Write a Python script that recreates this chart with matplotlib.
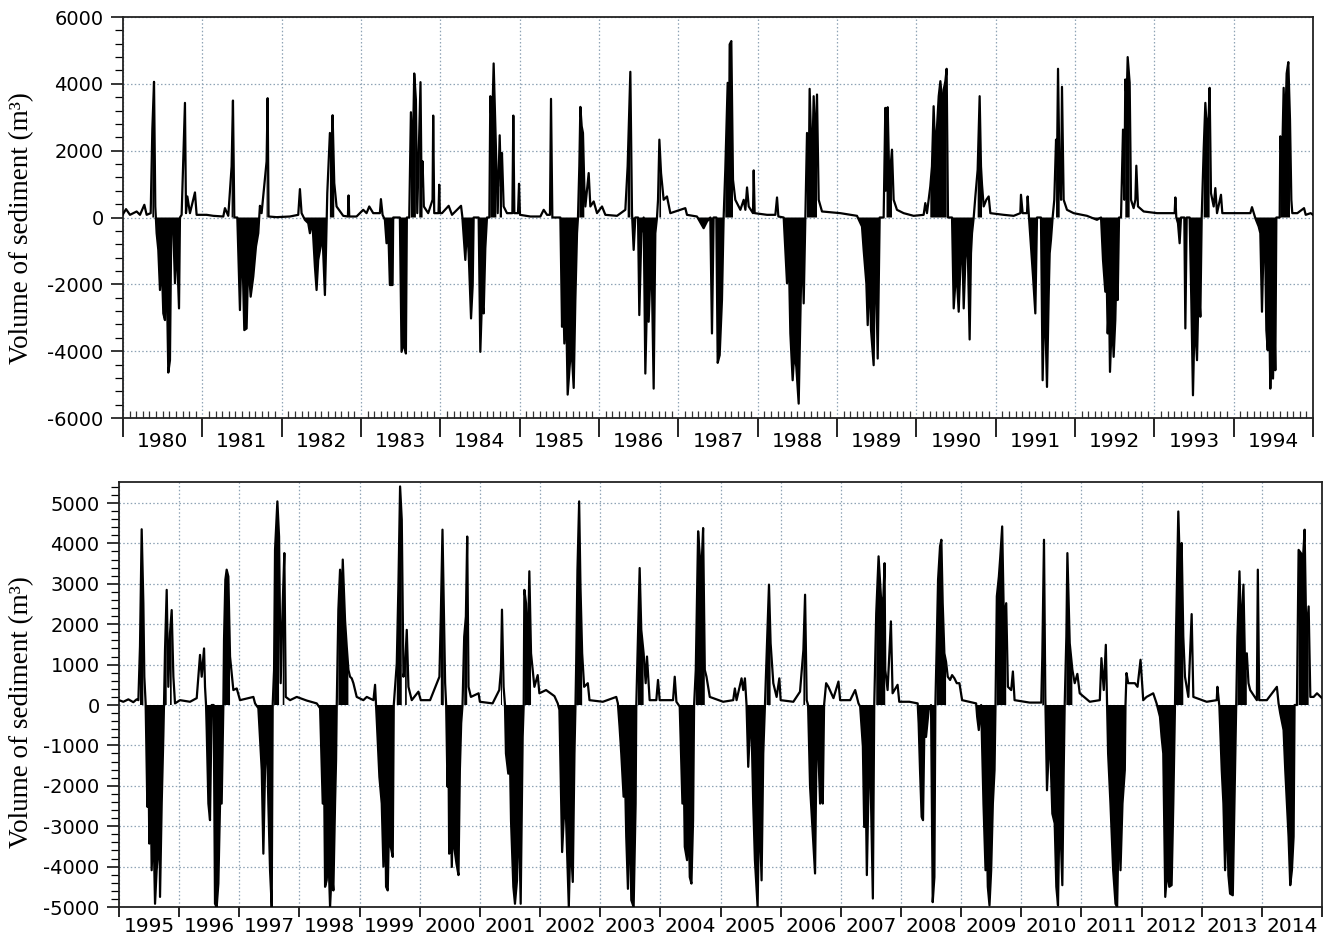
import matplotlib
matplotlib.use("Agg")
import matplotlib.pyplot as plt
import numpy as np
from matplotlib.ticker import MultipleLocator, FixedLocator

plt.rcParams['axes.unicode_minus'] = False

# ---------------- data: 1980-1994 (upper panel) ----------------
top_t = np.array([
    1980.000, 1980.038, 1980.088, 1980.172, 1980.214, 1980.269, 1980.298, 1980.349, 1980.370, 1980.391, 1980.407,
    1980.424, 1980.445, 1980.466, 1980.487, 1980.508, 1980.529, 1980.542, 1980.571, 1980.592, 1980.609, 1980.634,
    1980.655, 1980.676, 1980.706, 1980.718, 1980.739, 1980.781, 1980.794, 1980.811, 1980.844, 1980.907, 1980.928,
    1981.054, 1981.138, 1981.264, 1981.285, 1981.327, 1981.369, 1981.386, 1981.403, 1981.441, 1981.474, 1981.499,
    1981.529, 1981.558, 1981.579, 1981.609, 1981.642, 1981.676, 1981.705, 1981.726, 1981.747, 1981.810, 1981.823,
    1981.835, 1981.936,
    1982.104, 1982.209, 1982.230, 1982.251, 1982.293, 1982.335, 1982.356, 1982.386, 1982.419, 1982.440, 1982.461,
    1982.491, 1982.512, 1982.545, 1982.558, 1982.575, 1982.608, 1982.629, 1982.642, 1982.663, 1982.692, 1982.776,
    1982.835, 1982.843, 1982.852, 1982.944,
    1983.028, 1983.070, 1983.104, 1983.154, 1983.238, 1983.251, 1983.272, 1983.301, 1983.322, 1983.343, 1983.364,
    1983.398, 1983.406, 1983.490, 1983.511, 1983.541, 1983.566, 1983.578, 1983.608, 1983.629, 1983.650, 1983.671,
    1983.692, 1983.709, 1983.734, 1983.750, 1983.763, 1983.776, 1983.792, 1983.847, 1983.902, 1983.910, 1983.923,
    1983.977, 1983.986, 1983.994,
    1984.021, 1984.105, 1984.147, 1984.261, 1984.277, 1984.315, 1984.336, 1984.357, 1984.387, 1984.408, 1984.420,
    1984.483, 1984.504, 1984.525, 1984.546, 1984.567, 1984.588, 1984.618, 1984.630, 1984.651, 1984.672, 1984.693,
    1984.706, 1984.723, 1984.748, 1984.765, 1984.777, 1984.798, 1984.840, 1984.908, 1984.920, 1984.933, 1984.979,
    1984.992,
    1985.004, 1985.134, 1985.261, 1985.303, 1985.345, 1985.382, 1985.395, 1985.412, 1985.513, 1985.534, 1985.546,
    1985.563, 1985.584, 1985.605, 1985.630, 1985.651, 1985.681, 1985.702, 1985.723, 1985.735, 1985.752, 1985.765,
    1985.782, 1985.798, 1985.815, 1985.828, 1985.870, 1985.891, 1985.933, 1985.975,
    1986.038, 1986.080, 1986.227, 1986.332, 1986.361, 1986.395, 1986.416, 1986.437, 1986.458, 1986.492, 1986.508,
    1986.534, 1986.563, 1986.584, 1986.605, 1986.626, 1986.660, 1986.689, 1986.710, 1986.731, 1986.744, 1986.761,
    1986.782, 1986.815, 1986.857, 1986.899,
    1987.088, 1987.109, 1987.235, 1987.319, 1987.361, 1987.403, 1987.424, 1987.445, 1987.479, 1987.496, 1987.521,
    1987.550, 1987.571, 1987.592, 1987.622, 1987.639, 1987.647, 1987.668, 1987.689, 1987.718, 1987.782, 1987.824,
    1987.845, 1987.866, 1987.887, 1987.941, 1987.950, 1987.962,
    1988.118, 1988.223, 1988.244, 1988.261, 1988.328, 1988.370, 1988.391, 1988.412, 1988.441, 1988.462, 1988.487,
    1988.517, 1988.538, 1988.559, 1988.580, 1988.601, 1988.622, 1988.643, 1988.655, 1988.685, 1988.706, 1988.727,
    1988.748, 1988.769, 1988.811,
    1989.042, 1989.252, 1989.315, 1989.336, 1989.370, 1989.387, 1989.408, 1989.429, 1989.462, 1989.483, 1989.513,
    1989.538, 1989.588, 1989.609, 1989.617, 1989.624, 1989.632, 1989.639, 1989.655, 1989.672, 1989.693, 1989.714,
    1989.756, 1989.840, 1989.966,
    1990.092, 1990.113, 1990.134, 1990.176, 1990.197, 1990.218, 1990.239, 1990.261, 1990.282, 1990.303, 1990.324,
    1990.336, 1990.345, 1990.366, 1990.382, 1990.399, 1990.450, 1990.471, 1990.492, 1990.504, 1990.534, 1990.555,
    1990.576, 1990.597, 1990.630, 1990.651, 1990.672, 1990.689, 1990.702, 1990.723, 1990.744, 1990.773, 1990.798,
    1990.815, 1990.828, 1990.849, 1990.882, 1990.912, 1990.933,
    1991.101, 1991.227, 1991.311, 1991.319, 1991.340, 1991.395, 1991.403, 1991.420, 1991.445, 1991.471, 1991.500,
    1991.521, 1991.571, 1991.592, 1991.613, 1991.630, 1991.647, 1991.668, 1991.681, 1991.697, 1991.718, 1991.739,
    1991.761, 1991.773, 1991.786, 1991.807, 1991.824, 1991.836, 1991.857, 1991.899, 1991.983,
    1992.151, 1992.277, 1992.328, 1992.353, 1992.382, 1992.395, 1992.412, 1992.429, 1992.441, 1992.466, 1992.487,
    1992.508, 1992.525, 1992.538, 1992.555, 1992.580, 1992.605, 1992.622, 1992.634, 1992.651, 1992.664, 1992.689,
    1992.706, 1992.739, 1992.761, 1992.773, 1992.794, 1992.866,
    1993.034, 1993.202, 1993.256, 1993.265, 1993.277, 1993.298, 1993.319, 1993.336, 1993.378, 1993.391, 1993.408,
    1993.445, 1993.466, 1993.487, 1993.508, 1993.538, 1993.559, 1993.580, 1993.597, 1993.622, 1993.643, 1993.664,
    1993.685, 1993.697, 1993.714, 1993.748, 1993.769, 1993.790, 1993.840, 1993.857,
    1994.042, 1994.210, 1994.231, 1994.273, 1994.315, 1994.336, 1994.357, 1994.378, 1994.399, 1994.412, 1994.429,
    1994.445, 1994.462, 1994.479, 1994.496, 1994.513, 1994.525, 1994.538, 1994.580, 1994.588, 1994.609, 1994.630,
    1994.647, 1994.668, 1994.689, 1994.710, 1994.727, 1994.739, 1994.803, 1994.887, 1994.908, 1994.971, 1995.000,
])
top_v = np.array([
    100, 250, 80, 180, 80, 380, 80, 130, 2650, 4060, 330,
    -470, -970, -2170, -1270, -2870, -3070, -470, -4640, -4270, -170, -370,
    -1970, -670, -2720, 0, 80, 3430, 130, 630, 130, 750, 80,
    80, 50, 30, 280, 50, 1530, 3500, 0, 0, -2770, -470,
    -3370, -3320, -1270, -2370, -1770, -870, -470, 350, 130, 1680, 3570,
    30, 10,
    30, 80, 850, 130, -70, -170, -470, -90, -1470, -2170, -1270,
    -870, -370, -2320, -1070, 730, 2530, 1730, 3060, 1030, 330, 50,
    30, 660, 30, 30,
    230, 130, 330, 130, 130, 550, 80, -70, -770, -270, -2020,
    -2020, 0, 0, -4020, -3770, -4070, 0, 0, 3150, 1530, 4310,
    3530, 130, 2530, 4050, 930, 1680, 330, 130, 530, 3050, 130,
    130, 980, 130,
    130, 350, 80, 350, 30, -1270, -270, -1070, -3020, -2020, 0,
    0, -4020, -2470, -2870, -920, 0, 0, 3630, 2530, 4610, 2730,
    1530, 130, 2460, 930, 1930, 330, 130, 130, 3050, 130, 130,
    1010,
    80, 30, 30, 230, 80, 80, 3550, 0, 0, -3270, -1970,
    -3770, -2470, -5300, -4470, -3770, -5100, -2470, -470, 0, 1530, 3310,
    2730, 2530, 930, 330, 1330, 330, 480, 130,
    330, 80, 50, 230, 1530, 4360, 130, -970, 0, 0, -2920,
    -470, 0, -4670, -2470, -3120, -870, -5120, -470, 0, 530, 2330,
    1330, 530, 630, 130,
    280, 80, 30, -320, -120, 0, -3470, 0, 0, -4350, -4120,
    -2470, 0, 1430, 4030, 2030, 5180, 5280, 1130, 530, 230, 530,
    230, 900, 330, 130, 1410, 130,
    80, 80, 600, 30, 0, -1970, -970, -3470, -4870, -4020, -4470,
    -5570, -2970, -470, -2570, 0, 2530, 930, 3850, 1330, 3630, 2030,
    3680, 530, 180,
    130, 50, -270, -970, -1970, -3220, -1470, -3370, -4420, -470, -4220,
    0, 0, 3280, 800, 3100, 1200, 3300, 1530, 1430, 2030, 530,
    230, 130, 50,
    80, 430, 130, 930, 1530, 3330, 1930, 2730, 3630, 4080, 3530,
    2030, 3830, 4080, 4450, 0, 0, -2720, -1970, -1520, -2820, -1470,
    -470, -2720, -470, -1270, -3650, -1070, -470, 0, 630, 1430, 3630,
    1530, 980, 330, 530, 630, 130,
    80, 50, 130, 680, 130, 130, 630, 0, -870, -1770, -2870,
    0, 0, -4870, -2470, -3470, -5070, -2370, -1070, -670, 0, 530,
    2330, 1530, 4450, 930, 530, 3910, 530, 230, 130,
    50, -70, 0, -1270, -2220, -1270, -3470, -2470, -4620, -2970, -4170,
    -3070, -1270, -2470, 0, 0, 2630, 530, 4130, 3530, 4800, 4030,
    530, 280, 530, 1550, 330, 180,
    130, 130, 130, 600, 0, -170, -770, 0, 0, -3320, 0,
    0, -2470, -5320, -2970, -4270, -1970, -2970, 0, 2030, 3430, 2530,
    3030, 3880, 730, 330, 880, 130, 680, 130,
    130, 130, 310, -20, -270, -470, -2820, -670, -1270, -3370, -3970,
    -2470, -5120, -3470, -4820, -2970, -4570, 0, 0, 2430, 1530, 3880,
    2530, 4310, 4650, 2930, 530, 130, 130, 280, 80, 130, 80,
])

# ---------------- data: 1995-2014 (lower panel) ----------------
bot_t = np.array([
    1995.000, 1995.072, 1995.155, 1995.238, 1995.294, 1995.322, 1995.349, 1995.377, 1995.405, 1995.421, 1995.443,
    1995.471, 1995.488, 1995.504, 1995.527, 1995.543, 1995.571, 1995.599, 1995.626, 1995.654, 1995.671, 1995.682,
    1995.710, 1995.737, 1995.748, 1995.765, 1995.793, 1995.820, 1995.848, 1995.876, 1995.904, 1995.931,
    1996.014, 1996.181, 1996.292, 1996.347, 1996.375, 1996.414, 1996.430, 1996.447, 1996.458, 1996.486, 1996.513,
    1996.541, 1996.574, 1996.596, 1996.624, 1996.652, 1996.680, 1996.707, 1996.735, 1996.746, 1996.768, 1996.790,
    1996.818, 1996.846, 1996.901, 1996.957,
    1997.012, 1997.234, 1997.262, 1997.317, 1997.373, 1997.400, 1997.428, 1997.456, 1997.483, 1997.511, 1997.539,
    1997.555, 1997.578, 1997.594, 1997.633, 1997.661, 1997.688, 1997.722, 1997.749, 1997.772, 1997.844, 1997.955,
    1998.121, 1998.287, 1998.343, 1998.387, 1998.409, 1998.426, 1998.453, 1998.481, 1998.509, 1998.537, 1998.564,
    1998.592, 1998.609, 1998.620, 1998.647, 1998.675, 1998.703, 1998.720, 1998.758, 1998.786, 1998.814, 1998.841,
    1998.869, 1998.897, 1998.952,
    1999.063, 1999.119, 1999.230, 1999.257, 1999.274, 1999.285, 1999.329, 1999.368, 1999.396, 1999.424, 1999.440,
    1999.468, 1999.496, 1999.518, 1999.551, 1999.568, 1999.618, 1999.645, 1999.673, 1999.701, 1999.729, 1999.756,
    1999.784, 1999.812, 1999.867, 1999.978,
    2000.017, 2000.172, 2000.283, 2000.327, 2000.350, 2000.378, 2000.400, 2000.422, 2000.439, 2000.461, 2000.478,
    2000.489, 2000.511, 2000.533, 2000.556, 2000.572, 2000.611, 2000.644, 2000.667, 2000.689, 2000.711, 2000.739,
    2000.767, 2000.789, 2000.811, 2000.850, 2000.978,
    2001.000, 2001.211, 2001.322, 2001.350, 2001.367, 2001.394, 2001.417, 2001.433, 2001.472, 2001.494, 2001.517,
    2001.556, 2001.583, 2001.617, 2001.644, 2001.678, 2001.711, 2001.728, 2001.739, 2001.767, 2001.794, 2001.822,
    2001.850, 2001.906, 2001.961, 2001.989,
    2002.100, 2002.239, 2002.294, 2002.322, 2002.367, 2002.406, 2002.433, 2002.478, 2002.506, 2002.544, 2002.572,
    2002.589, 2002.600, 2002.622, 2002.650, 2002.672, 2002.700, 2002.733, 2002.794, 2002.822,
    2003.044, 2003.267, 2003.294, 2003.322, 2003.350, 2003.389, 2003.411, 2003.433, 2003.461, 2003.489, 2003.517,
    2003.556, 2003.589, 2003.600, 2003.628, 2003.656, 2003.683, 2003.722, 2003.756, 2003.778, 2003.822, 2003.933,
    2003.961, 2003.989,
    2004.211, 2004.239, 2004.267, 2004.322, 2004.367, 2004.389, 2004.406, 2004.444, 2004.467, 2004.489, 2004.517,
    2004.544, 2004.561, 2004.589, 2004.628, 2004.656, 2004.683, 2004.711, 2004.739, 2004.767, 2004.822,
    2005.044, 2005.211, 2005.239, 2005.267, 2005.350, 2005.378, 2005.406, 2005.433, 2005.461, 2005.489, 2005.517,
    2005.544, 2005.572, 2005.617, 2005.644, 2005.683, 2005.711, 2005.739, 2005.767, 2005.806, 2005.833, 2005.878,
    2005.933, 2005.978,
    2006.000, 2006.211, 2006.322, 2006.378, 2006.406, 2006.433, 2006.456, 2006.489, 2006.533, 2006.572, 2006.600,
    2006.628, 2006.656, 2006.678, 2006.700, 2006.722, 2006.756, 2006.794, 2006.878, 2006.961, 2006.989,
    2007.156, 2007.239, 2007.294, 2007.322, 2007.367, 2007.389, 2007.411, 2007.433, 2007.461, 2007.489, 2007.533,
    2007.556, 2007.589, 2007.628, 2007.667, 2007.700, 2007.728, 2007.739, 2007.778, 2007.833, 2007.861, 2007.944,
    2007.972,
    2008.139, 2008.278, 2008.294, 2008.317, 2008.344, 2008.367, 2008.389, 2008.417, 2008.461, 2008.500, 2008.528,
    2008.556, 2008.572, 2008.594, 2008.617, 2008.650, 2008.672, 2008.694, 2008.722, 2008.750, 2008.778, 2008.817,
    2008.850, 2008.889, 2008.928, 2008.972,
    2009.017, 2009.250, 2009.267, 2009.294, 2009.333, 2009.372, 2009.406, 2009.428, 2009.444, 2009.472, 2009.500,
    2009.528, 2009.556, 2009.572, 2009.594, 2009.628, 2009.650, 2009.683, 2009.711, 2009.750, 2009.778, 2009.833,
    2009.861, 2009.889,
    2010.139, 2010.333, 2010.350, 2010.378, 2010.400, 2010.428, 2010.472, 2010.517, 2010.556, 2010.583, 2010.611,
    2010.639, 2010.683, 2010.706, 2010.722, 2010.750, 2010.767, 2010.806, 2010.850, 2010.889, 2010.933, 2010.972,
    2011.139, 2011.306, 2011.333, 2011.372, 2011.406, 2011.428, 2011.444, 2011.483, 2011.528, 2011.567, 2011.594,
    2011.628, 2011.650, 2011.683, 2011.722, 2011.733, 2011.750, 2011.778, 2011.833, 2011.889, 2011.933, 2011.983,
    2012.028, 2012.083, 2012.194, 2012.250, 2012.306, 2012.333, 2012.361, 2012.394, 2012.428, 2012.461, 2012.500,
    2012.528, 2012.556, 2012.572, 2012.611, 2012.639, 2012.667, 2012.694, 2012.722, 2012.778, 2012.833, 2012.861,
    2013.083, 2013.250, 2013.261, 2013.294, 2013.333, 2013.361, 2013.389, 2013.417, 2013.444, 2013.472, 2013.517,
    2013.544, 2013.572, 2013.594, 2013.628, 2013.656, 2013.694, 2013.722, 2013.750, 2013.778, 2013.806, 2013.917,
    2013.933, 2013.956,
    2014.083, 2014.250, 2014.278, 2014.306, 2014.361, 2014.389, 2014.417, 2014.444, 2014.472, 2014.500, 2014.528,
    2014.544, 2014.583, 2014.611, 2014.650, 2014.683, 2014.711, 2014.739, 2014.778, 2014.806, 2014.861, 2014.917,
    2015.000,
])
bot_v = np.array([
    120, 80, 140, 70, 140, 120, 1450, 4350, 2520, 700, 40,
    -2520, -1200, -3430, -2020, -4090, -2850, -4920, -4090, -3600, -2020, -4750,
    -2440, -790, 0, 1360, 2850, 450, 1780, 2350, 700, 40,
    120, 80, 170, 1240, 700, 1400, 450, 0, -620, -2440, -2850,
    0, 0, -4920, -5000, -4420, -2440, -2440, 0, 1610, 3100, 3350,
    3180, 1200, 370, 410,
    120, 200, 40, -80, -1610, -3680, -1610, -540, -2440, -4090, -5000,
    0, 870, 3840, 5040, 4170, 540, 2520, 3760, 200, 120, 200,
    110, 40, -80, -2440, -1610, -4500, -4340, -3680, -5000, -4090, -4590,
    -2440, -1360, 0, 2360, 3350, 2520, 3600, 2100, 1450, 870, 700,
    660, 540, 200,
    120, 200, 120, 500, 0, -370, -1780, -2440, -4000, -2440, -4500,
    -4590, -2440, -3510, -3760, 0, 1030, 2930, 5410, 4590, 700, 950,
    1860, 450, 120, 330,
    120, 120, 540, 700, 2190, 4340, 2360, 540, 0, -2020, -1200,
    -3680, -2440, -4010, -2440, -3510, -3930, -4210, -1610, -450, 0, 1690,
    2190, 4170, 450, 200, 290,
    80, 40, 370, 870, 2360, 450, 0, -1200, -1700, -790, -2850,
    -4500, -4920, -4340, -2440, -4920, -790, 0, 2850, 2520, 1120, 3310,
    1280, 450, 740, 290,
    370, 220, 40, -120, -3640, -2440, -2850, -5000, -3260, -4380, -1200,
    0, 950, 3350, 5040, 2930, 1280, 450, 540, 120,
    80, 200, 40, -540, -1200, -2270, -1610, -3260, -4550, -2440, -4830,
    -5000, -2440, 0, 1690, 3390, 1860, 1280, 540, 1200, 120, 120,
    620, 120,
    120, 700, 80, -40, -2440, -1610, -3510, -3840, -2440, -4260, -4420,
    -2850, 0, 870, 4300, 3680, 3350, 4380, 870, 700, 200,
    80, 120, 410, 120, 660, 370, 660, 0, -1530, -620, -620,
    -2440, -3840, -5000, -2440, -4340, -1200, 0, 1280, 2980, 1530, 540,
    200, 660,
    120, 80, 330, 1360, 2730, 120, 0, -2020, -3180, -4170, -620,
    -1200, -2440, -1610, -2440, 0, 540, 450, 170, 580, 120,
    120, 370, 40, -40, -1030, -3020, -1610, -4210, -2020, -1360, -4790,
    0, 2270, 3680, 2690, 2360, 3510, 870, 370, 2070, 290, 500,
    80,
    80, 40, -450, -1610, -2770, -2850, -620, -790, -120, 0, -4880,
    -4260, 0, 1450, 3100, 3930, 4090, 2520, 1280, 1070, 700, 620,
    740, 660, 540, 540,
    120, 40, -290, -620, 0, -2440, -4090, -3260, -4500, -4960, -4090,
    -2440, -1610, 0, 2690, 3180, 3640, 4420, 2110, 2520, 450, 370,
    830, 120,
    60, 60, 1200, 4090, 200, -2110, -620, -2690, -2930, -4500, -4960,
    -2440, -4460, -1610, 0, 1690, 3760, 1530, 870, 540, 770, 290,
    80, 120, 1160, 370, 1490, 0, -1200, -2440, -4090, -4920, -5000,
    -2440, -4090, -2440, -1610, 0, 790, 540, 540, 540, 450, 1120,
    120, 200, 290, 40, -290, -790, -1200, -4750, -4090, -4500, -4460,
    -2440, 0, 1690, 4790, 3350, 4010, 1690, 700, 200, 2250, 200,
    80, 120, 450, -40, -1610, -2440, -4090, -2440, -4210, -4670, -4710,
    -2440, 0, 1690, 3310, 1690, 2980, 870, 1280, 540, 370, 120,
    3350, 120,
    120, 450, 40, -210, -620, -1610, -2440, -3260, -4460, -4090, -3260,
    0, 0, 3840, 3760, 3600, 4340, 1690, 2440, 200, 200, 290,
    170,
])

top_years = list(range(1980, 1995))
bot_years = list(range(1995, 2015))
ylabel_text = "Volume of sediment (m\u00b3)"

assert len(top_t) == len(top_v) and len(bot_t) == len(bot_v)

W, H = 1330, 938
fig = plt.figure(figsize=(W / 100, H / 100), dpi=100)
ax1 = fig.add_axes([123 / W, 1 - 418 / H, (1313 - 123) / W, (418 - 17) / H])
ax2 = fig.add_axes([119 / W, 1 - 907 / H, (1322 - 119) / W, (907 - 482) / H])

grid_color = '#8ea3b5'
tick_family = 'DejaVu Sans'
ytick_size = 14
xtick_size = 14.5


def draw_series(ax, t, v):
    ax.plot(t, v, color='black', lw=1.6, zorder=3)
    ax.fill_between(t, v, 0, where=v < 0, interpolate=True, color='black', lw=0, zorder=3)
    ax.fill_between(t, v, 0, where=v > 800, color='black', lw=0, zorder=3)


def style_axes(ax, years, ymaj, ymin, xtick_len, xpad, monthly):
    ax.set_axisbelow(True)
    edges = years + [years[-1] + 1]
    ax.set_xlim(edges[0], edges[-1])
    ax.xaxis.set_major_locator(FixedLocator(edges))
    ax.set_xticklabels([])
    ax.yaxis.set_major_locator(MultipleLocator(ymaj))
    ax.yaxis.set_minor_locator(MultipleLocator(ymin))
    if monthly:
        months = [y + m / 12 for y in years for m in range(1, 12)]
        ax.xaxis.set_minor_locator(FixedLocator(months))
        ax.tick_params(axis='x', which='minor', direction='in', length=5, width=0.9, color='#333333')
    ax.tick_params(axis='x', which='major', direction='out', length=xtick_len, width=1.2)
    ax.tick_params(axis='y', which='major', direction='out', length=9, width=1.1, pad=5)
    ax.tick_params(axis='y', which='minor', direction='out', length=6, width=0.9)
    ax.grid(True, which='major', axis='both', color=grid_color, linestyle=(0, (1.2, 1.8)), lw=0.9)
    for sp in ax.spines.values():
        sp.set_linewidth(1.3)
        sp.set_color('#222222')
    sec = ax.secondary_xaxis('bottom')
    sec.set_xticks([y + 0.5 for y in years], [str(y) for y in years],
                   family=tick_family, size=xtick_size)
    sec.tick_params(length=0, pad=xpad)
    sec.spines['bottom'].set_visible(False)


draw_series(ax1, top_t, top_v)
ax1.set_ylim(-6000, 6000)
style_axes(ax1, top_years, 2000, 400, 14, 10, True)

draw_series(ax2, bot_t, bot_v)
ax2.set_ylim(-5000, 5520)
style_axes(ax2, bot_years, 1000, 200, 7, 7, False)

for ax, ticks in ((ax1, np.arange(-6000, 6001, 2000)), (ax2, np.arange(-5000, 5001, 1000))):
    ax.set_yticks(ticks)
    ax.set_yticklabels([str(int(k)) for k in ticks], family=tick_family, size=ytick_size)

fig.text(22 / W, 1 - 228 / H, ylabel_text, rotation=90, ha='center', va='center',
         family='Liberation Serif', size=19.5)
fig.text(22 / W, 1 - 712 / H, ylabel_text, rotation=90, ha='center', va='center',
         family='Liberation Serif', size=19.5)

fig.savefig('out.png', dpi=100)
